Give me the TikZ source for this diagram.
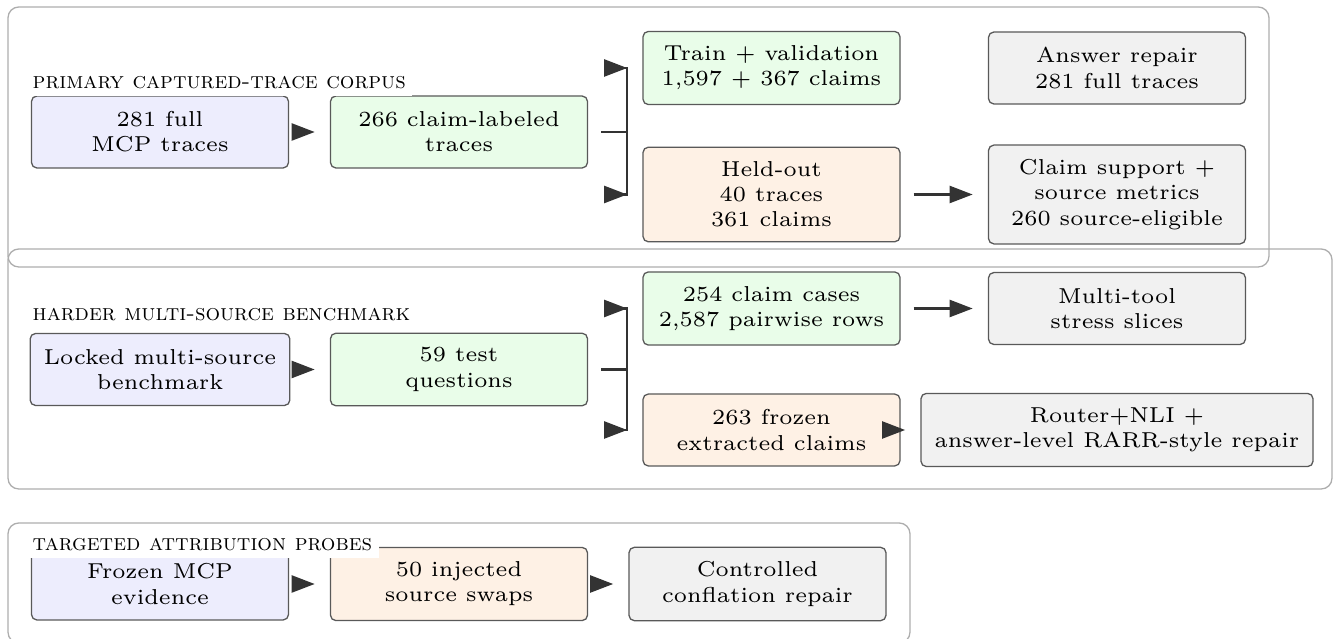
\documentclass[tikz,border=0pt]{standalone}
\usetikzlibrary{arrows.meta}
\definecolor{boxline}{gray}{0.35}
\definecolor{frameline}{gray}{0.68}
\definecolor{arrowc}{gray}{0.2}
\definecolor{fillA}{RGB}{237,237,253}
\definecolor{fillG}{RGB}{233,253,233}
\definecolor{fillO}{RGB}{254,241,229}
\definecolor{fillR}{RGB}{241,241,241}
\tikzset{
  box/.style={draw=boxline, line width=0.36pt, rounded corners=1.5pt, align=center,
    minimum width=71.4pt, minimum height=20pt, inner xsep=3.8pt, inner ysep=4pt,
    font=\fontsize{6}{7}\selectfont},
  srcbox/.style={box, fill=fillA},
  midbox/.style={box, fill=fillG},
  heldbox/.style={box, fill=fillO},
  outbox/.style={box, fill=fillR},
  frame/.style={draw=frameline, line width=0.36pt, rounded corners=3pt},
  grouplab/.style={fill=white, inner sep=1.8pt, anchor=base west,
    font=\fontsize{6.38}{7.5}\selectfont\scshape},
  arr/.style={draw=arrowc, line width=0.7pt, -{Triangle[length=6.4pt,width=4.7pt]},
    shorten <=3.6pt, shorten >=4.2pt},
  arrn/.style={arr, shorten <=0pt}
}
\begin{document}
\begin{tikzpicture}[x=0.27778pt, y=-0.27778pt]
\useasboundingbox (0,0) rectangle (1333,639);
% group frames
\draw[frame] (8,7) rectangle (1269,267);
\draw[frame] (8,249) rectangle (1332,489);
\draw[frame] (8,523) rectangle (910,643);
% row 1
\node[srcbox]  (A1) at (160,132)    {281 full\\MCP traces};
\node[midbox]  (A2) at (459,132)    {266 claim-labeled\\traces};
\node[midbox]  (B1) at (771.5,68)   {Train + validation\\1,597 + 367 claims};
\node[heldbox] (B2) at (771.5,194.5){Held-out\\40 traces\\361 claims};
\node[outbox]  (C1) at (1117,68)    {Answer repair\\281 full traces};
\node[outbox]  (C2) at (1117,194.5) {Claim support +\\source metrics\\260 source-eligible};
% row 2
\node[srcbox]  (D1) at (160,369.5)  {Locked multi-source\\benchmark};
\node[midbox]  (D2) at (459,369.5)  {59 test\\questions};
\node[midbox]  (E1) at (771.5,308.5){254 claim cases\\2,587 pairwise rows};
\node[heldbox] (E2) at (771.5,430)  {263 frozen\\extracted claims};
\node[outbox]  (F1) at (1117,308.5) {Multi-tool\\stress slices};
\node[outbox]  (F2) at (1117,430)   {Router+NLI +\\answer-level RARR-style repair};
% row 3
\node[srcbox]  (G1) at (160,584)    {Frozen MCP\\evidence};
\node[heldbox] (G2) at (459,584)    {50 injected\\source swaps};
\node[outbox]  (G3) at (757.5,584)  {Controlled\\conflation repair};
% connectors
\draw[arr] (A1) -- (A2);
\draw[arr] (A2.east) -- ++(39,0) |- (B1.west);
\draw[arr] (A2.east) -- ++(39,0) |- (B2.west);
\draw[arr] (B2) -- (C2);
\draw[arr] (D1) -- (D2);
\draw[arr] (D2.east) -- ++(39,0) |- (E1.west);
\draw[arr] (D2.east) -- ++(39,0) |- (E2.west);
\draw[arr] (E1) -- (F1);
\draw[arrn] (E2) -- (F2);
\draw[arr] (G1) -- (G2);
\draw[arr] (G2) -- (G3);
% group labels
\node[grouplab] (L1) at (25.5,89)  {primary captured-trace corpus};
\node[grouplab] (L2) at (25.5,321) {harder multi-source benchmark};
\node[grouplab] (L3) at (25.5,551) {targeted attribution probes};
\end{tikzpicture}
\end{document}
